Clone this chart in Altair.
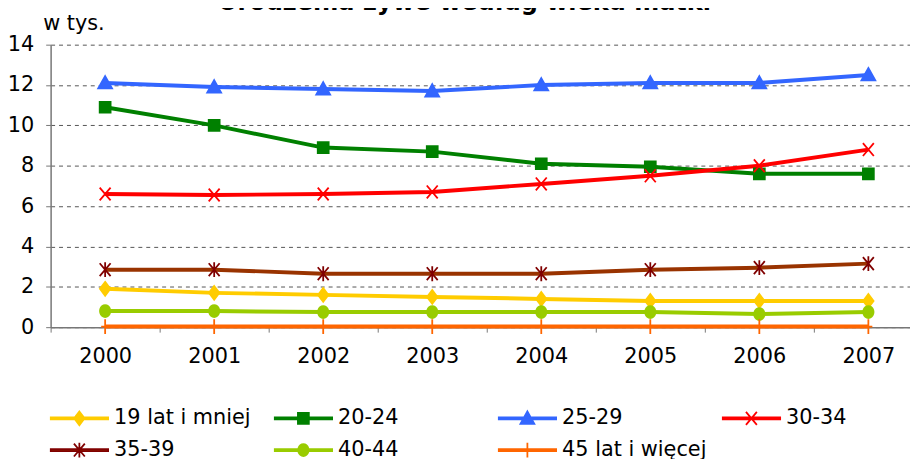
import re
import numpy as np
import pandas as pd
import altair as alt

# ---- data ----
years = ["2000", "2001", "2002", "2003", "2004", "2005", "2006", "2007"]
series = ["19 lat i mniej", "20-24", "25-29", "30-34", "35-39", "40-44", "45 lat i więcej"]
v_19 = [1.9, 1.7, 1.6, 1.5, 1.4, 1.3, 1.3, 1.3]
v_20_24 = [10.9, 10.0, 8.9, 8.7, 8.1, 7.95, 7.6, 7.6]
v_25_29 = [12.1, 11.9, 11.8, 11.7, 12.0, 12.1, 12.1, 12.5]
v_30_34 = [6.6, 6.55, 6.6, 6.7, 7.1, 7.5, 8.0, 8.8]
v_35_39 = [2.85, 2.85, 2.65, 2.65, 2.65, 2.85, 2.95, 3.15]
v_40_44 = [0.8, 0.8, 0.75, 0.75, 0.75, 0.75, 0.65, 0.75]
v_45 = [0.03, 0.03, 0.03, 0.03, 0.03, 0.03, 0.03, 0.03]
y_ticks = [0, 2, 4, 6, 8, 10, 12, 14]

values = [v_19, v_20_24, v_25_29, v_30_34, v_35_39, v_40_44, v_45]
rows = []
for s, vals in zip(series, values):
    for y, v in zip(years, vals):
        rows.append({"series": s, "year": y, "value": v})
df = pd.DataFrame(rows)

# ---- styles ----
FONT = "DejaVu Sans"
line_colors = ["#FFCC00", "#008000", "#3366FF", "#FF0000", "#993300", "#99CC00", "#FF6600"]
marker_colors = ["#FFCC00", "#008000", "#3366FF", "#FF0000", "#800000", "#99CC00", "#FF6600"]

def ellipse(rx, ry, n=20):
    pts = [(rx * np.cos(2 * np.pi * i / n), ry * np.sin(2 * np.pi * i / n)) for i in range(n)]
    return "M" + "L".join(f"{x:.2f},{y:.2f}" for x, y in pts) + "Z"

# marker outlines in pixels
marker_px = [
    "M0,-7L5.25,0L0,7L-5.25,0Z",                       # diamond
    "M-5.5,-5.5H5.5V5.5H-5.5Z",                        # square
    "M0,-7L7,5.5H-7Z",                                 # triangle
    "M-5.5,-6.5L5.5,6.5M-5.5,6.5L5.5,-6.5",            # x
    "M-5.5,-6.5L5.5,6.5M-5.5,6.5L5.5,-6.5M0,-7.5V7.5",  # asterisk
    ellipse(5.2, 6.0),                                 # circle
    "M0,-7.5V7.5M-4,0H4",                              # plus
]

def scale_path(p, k):
    return re.sub(r"-?\d+(?:\.\d+)?", lambda m: f"{float(m.group()) / k:.4f}", p)

PLOT_K = 7.0      # px per unit -> size (2*7)^2
LEG_K = 29.0      # px per unit -> size (2*29)^2
plot_shapes = [scale_path(p, PLOT_K) for p in marker_px]
legend_shapes = [scale_path("M-29,-1H29V1H-29Z" + p, LEG_K) for p in marker_px]

AX_COLOR = "#777777"

x_enc = alt.X(
    "year:O",
    scale=alt.Scale(type="band", domain=years, range=[0, 880], paddingInner=0, paddingOuter=0),
    bandPosition=0.5,
    axis=alt.Axis(title=None, tickBand="extent", labelAngle=0, labelFont=FONT, labelFontSize=21,
                  labelColor="black", labelPadding=14, tickSize=5, tickColor=AX_COLOR,
                  domainColor=AX_COLOR, domainWidth=1.5, tickWidth=1, grid=False),
)
y_enc = alt.Y(
    "value:Q",
    scale=alt.Scale(domain=[0, 14], nice=False),
    axis=alt.Axis(values=y_ticks, title="w tys.", titleAngle=0, titleAlign="left",
                  titleBaseline="alphabetic", titleX=-8, titleY=-15, titleFont=FONT,
                  titleFontSize=21, titleFontWeight="normal", titleColor="black",
                  labelFont=FONT, labelFontSize=21, labelColor="black", labelPadding=12,
                  tickSize=5, tickColor=AX_COLOR, domainColor=AX_COLOR, domainWidth=1.5,
                  grid=True, gridColor="#555555", gridDash=[4, 4], gridWidth=1),
)

base = alt.Chart(df)

lines = base.mark_line(strokeWidth=4).encode(
    x=x_enc, y=y_enc,
    color=alt.Color("series:N", scale=alt.Scale(domain=series, range=line_colors), legend=None),
)

points = base.mark_point(filled=True, opacity=1, strokeWidth=1.8, size=(2 * PLOT_K) ** 2).encode(
    x=x_enc, y=y_enc,
    fill=alt.Fill("series:N", scale=alt.Scale(domain=series, range=line_colors), legend=None),
    stroke=alt.Stroke("series:N", scale=alt.Scale(domain=series, range=marker_colors), legend=None),
    shape=alt.Shape("series:N", scale=alt.Scale(domain=series, range=plot_shapes), legend=None),
)

leg = alt.Legend(orient="none", legendX=-1, legendY=362, direction="horizontal", columns=4,
                 symbolSize=(2 * LEG_K) ** 2, symbolStrokeWidth=1.8, clipHeight=30, rowPadding=2,
                 columnPadding=15, gridAlign="all", labelFont=FONT, labelFontSize=21,
                 labelColor="black", labelOffset=5, title=None, padding=0, symbolOpacity=1,
                 labelLimit=400)

legend_layer = base.transform_filter("false").mark_point(filled=True, opacity=1, strokeWidth=1.8).encode(
    x=x_enc, y=y_enc,
    fill=alt.Fill("series:N", scale=alt.Scale(domain=series, range=line_colors), legend=leg),
    stroke=alt.Stroke("series:N", scale=alt.Scale(domain=series, range=marker_colors), legend=leg),
    shape=alt.Shape("series:N", scale=alt.Scale(domain=series, range=legend_shapes), legend=leg),
)

chart = alt.layer(lines, points, legend_layer).resolve_scale(
    shape="independent", fill="independent", stroke="independent"
).properties(
    width=867, height=285,
    autosize=alt.AutoSizeParams(type="none"),
    padding={"left": 43, "top": 35, "right": 0, "bottom": 131},
    title=alt.TitleParams("Urodzenia żywe według wieku matki", font=FONT, fontSize=24.2,
                          fontWeight="bold", color="black", anchor="middle", frame="group",
                          baseline="alphabetic", orient="top", offset=-21, dx=-16),
).configure_view(stroke=None)

chart.save("out.html", embed_options={"renderer": "svg", "actions": False})
